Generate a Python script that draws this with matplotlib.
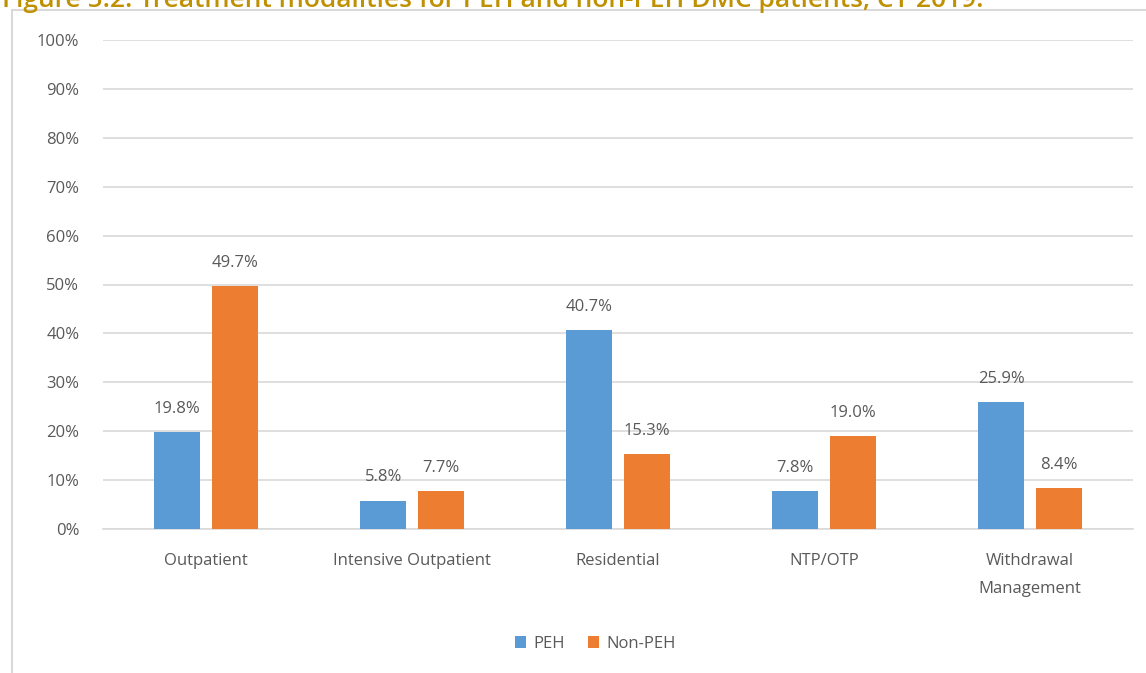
import matplotlib.pyplot as plt
from matplotlib.patches import Rectangle
import numpy as np

# treatment modality shares, CY 2019
categories = ['Outpatient', 'Intensive Outpatient', 'Residential', 'NTP/OTP',
              'Withdrawal\nManagement']
peh = [19.8, 5.8, 40.7, 7.8, 25.9]
non_peh = [49.7, 7.7, 15.3, 19.0, 8.4]
series_names = ['PEH', 'Non-PEH']
yticks = [0, 10, 20, 30, 40, 50, 60, 70, 80, 90, 100]
title = 'Figure 5.2: Treatment modalities for PEH and non-PEH DMC patients, CY 2019.'

blue = '#5B9BD5'
orange = '#ED7D31'
grey_text = '#595959'

plt.rcParams['font.family'] = ['Open Sans', 'DejaVu Sans']

fig = plt.figure(figsize=(11.46, 6.73), dpi=100)

# light frame around the chart area
frame = Rectangle((12 / 1146, -0.05), 1.1, 1 - 10 / 673 + 0.05, transform=fig.transFigure,
                  fill=False, edgecolor='#d9d9d9', linewidth=1.5, zorder=0)
fig.patches.append(frame)

fig.text(2 / 1146, 1 - 7 / 673, title, color='#BF9000', fontsize=19, fontweight='semibold',
         ha='left', va='baseline')

ax = fig.add_axes([103 / 1146, 1 - 529 / 673, 1030 / 1146, 489 / 673])

x = np.arange(len(categories))
width = 0.223
off = 0.14
b1 = ax.bar(x - off, peh, width, color=blue, label=series_names[0], zorder=3)
b2 = ax.bar(x + off, non_peh, width, color=orange, label=series_names[1], zorder=3)

for bars, vals in ((b1, peh), (b2, non_peh)):
    for r, v in zip(bars, vals):
        ax.annotate('%.1f%%' % v, (r.get_x() + r.get_width() / 2, v),
                    xytext=(0, 11), textcoords='offset points', ha='center', va='bottom',
                    fontsize=12, color=grey_text)

ax.set_xlim(-0.5, len(categories) - 0.5)
ax.set_ylim(0, 100)
ax.set_yticks(yticks)
ax.set_yticklabels(['%d%%' % t for t in yticks], fontsize=12, color=grey_text)
ax.set_xticks(x)
ax.set_xticklabels(categories, fontsize=12, color=grey_text, linespacing=2.0)
ax.tick_params(axis='y', length=0, pad=17)
ax.tick_params(axis='x', length=0, pad=17)
ax.yaxis.grid(True, color='#d9d9d9', linewidth=1.2, zorder=0)
ax.set_axisbelow(True)
for s in ['top', 'right', 'left']:
    ax.spines[s].set_visible(False)
ax.spines['bottom'].set_color('#d9d9d9')
ax.spines['bottom'].set_linewidth(1.2)

fig.legend(loc='center', bbox_to_anchor=(595 / 1146, 1 - 644 / 673), ncol=2, frameon=False,
           fontsize=12, labelcolor=grey_text, handlelength=0.7, handleheight=0.7,
           handletextpad=0.4, columnspacing=1.4)

fig.savefig('out.png', dpi=100)
